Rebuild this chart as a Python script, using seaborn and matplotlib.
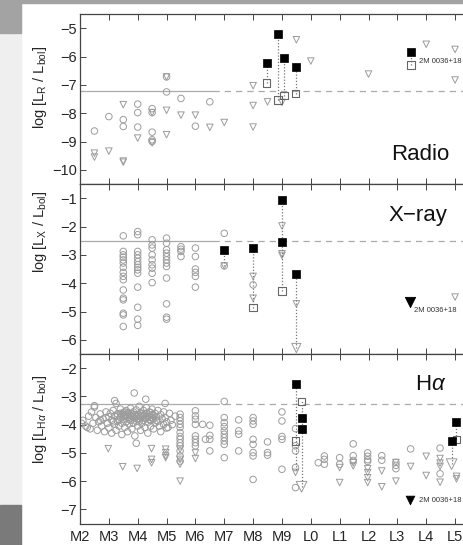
import numpy as np
import pandas as pd
import matplotlib
matplotlib.use("Agg")
import matplotlib.pyplot as plt
import seaborn as sns
from matplotlib.patches import Rectangle

sns.set_style("ticks")
plt.rcParams['font.family'] = ['Liberation Sans', 'DejaVu Sans']
plt.rcParams['mathtext.fontset'] = 'custom'
plt.rcParams['mathtext.rm'] = 'Liberation Sans'
plt.rcParams['mathtext.it'] = 'Liberation Sans:italic'

# ---------------- data ----------------
spt_labels = ["M2", "M3", "M4", "M5", "M6", "M7", "M8", "M9",
              "L0", "L1", "L2", "L3", "L4", "L5"]

# Radio
rad_circ_x = [0.5, 1.0, 1.5, 1.5, 2.0, 2.0, 2.0, 2.5, 2.5, 2.5, 2.5, 2.5, 3.0, 3.0, 3.5, 4.0, 4.5]
rad_circ_y = [-8.63, -8.12, -8.23, -8.47, -7.68, -7.98, -8.49, -7.84, -7.98, -8.67, -8.94, -9.0,
              -6.72, -7.25, -7.48, -8.46, -7.60]
rad_tri_x = [0.5, 0.5, 1.0, 1.5, 1.5, 1.5, 2.0, 2.5, 2.5, 3.0, 3.0, 3.0, 3.5, 4.0, 4.5, 5.0,
             6.0, 6.0, 6.0, 6.5, 7.0, 7.5, 8.0, 10.0, 12.0, 13.0, 13.0]
rad_tri_y = [-9.41, -9.55, -9.34, -7.70, -9.69, -9.73, -8.88, -7.98, -9.05, -6.72, -7.90, -8.76,
             -8.07, -8.07, -8.50, -8.33, -7.03, -7.73, -8.49, -7.60, -7.62, -5.41, -6.16, -6.62,
             -5.57, -5.75, -6.83]
rad_det_x = [6.47, 6.87, 7.08, 7.47, 11.47]
rad_det_y = [-6.22, -5.22, -6.07, -6.36, -5.83]
rad_open_y = [-6.93, -7.54, -7.38, -7.31, -6.30]

# X-ray
xr_circ_x = ([1.5] * 16 + [2.0] * 14 + [2.5] * 9 + [3.0] * 12 + [3.5] * 4 + [4.0] * 6
             + [5.0, 5.0, 6.0])
xr_circ_y = [-2.33, -2.88, -3.00, -3.08, -3.18, -3.29, -3.44, -3.62, -3.76, -3.88, -4.24, -4.53,
             -4.59, -5.06, -5.12, -5.53,
             -2.18, -2.29, -2.88, -3.00, -3.12, -3.24, -3.35, -3.44, -3.53, -3.65, -4.14, -4.85,
             -5.27, -5.49,
             -2.47, -2.65, -2.76, -3.00, -3.18, -3.35, -3.47, -3.65, -3.98,
             -2.41, -2.59, -2.82, -2.94, -3.06, -3.18, -3.29, -3.41, -3.82, -4.73, -5.20, -5.27,
             -2.71, -2.80, -2.88, -3.06,
             -2.76, -3.06, -3.50, -3.62, -3.76, -4.14,
             -2.24, -3.39, -4.06]
xr_tri_x = [5.0, 6.0, 6.0, 7.0, 7.0, 7.0, 7.5, 13.0]
xr_tri_y = [-3.39, -3.76, -4.53, -1.98, -2.96, -3.02, -4.73, -4.49]
xr_bigtri_x = [7.5]
xr_bigtri_y = [-6.29]
xr_det_x = [5.0, 6.0, 7.0, 7.0, 7.5]
xr_det_y = [-2.82, -2.76, -1.08, -2.56, -3.67]
xr_open_x = [6.0, 7.0]
xr_open_y = [-4.86, -4.27]
xr_link_x = [5.0, 6.0, 7.0, 7.5]
xr_link_top = [-2.82, -2.76, -1.08, -3.67]
xr_link_bot = [-3.39, -4.86, -4.27, -6.29]

# H-alpha: dense cloud of early/mid M dwarfs
ha_cloud_x = [0.05, 0.1, 0.2, 0.25, 0.3, 0.35, 0.4, 0.45, 0.5, 0.5, 0.55, 0.6, 0.65, 0.7, 0.7,
              0.75, 0.8, 0.85, 0.9, 0.9, 0.95, 1.0, 1.0, 1.05, 1.1, 1.1, 1.15, 1.15, 1.2, 1.2,
              1.2, 1.25, 1.25, 1.3, 1.3, 1.3, 1.35, 1.35, 1.4, 1.4, 1.4, 1.45, 1.45, 1.45, 1.5,
              1.5, 1.5, 1.55, 1.55, 1.55, 1.6, 1.6, 1.6, 1.65, 1.65, 1.65, 1.7, 1.7, 1.7, 1.75,
              1.75, 1.75, 1.8, 1.8, 1.8, 1.85, 1.85, 1.85, 1.88, 1.9, 1.9, 1.9, 1.95, 1.95, 1.95,
              1.95, 2.0, 2.0, 2.0, 2.05, 2.05, 2.05, 2.1, 2.1, 2.1, 2.15, 2.15, 2.15, 2.2, 2.2,
              2.2, 2.25, 2.25, 2.25, 2.28, 2.3, 2.3, 2.3, 2.35, 2.35, 2.35, 2.4, 2.4, 2.4, 2.45,
              2.45, 2.45, 2.5, 2.5, 2.5, 2.55, 2.55, 2.55, 2.6, 2.6, 2.65, 2.65, 2.7, 2.7, 2.75,
              2.8, 2.8, 2.85, 2.9, 2.9, 2.95, 2.95, 3.0, 3.0, 3.05, 3.1, 3.15, 3.2, 3.3]
ha_cloud_y = [-3.95, -3.85, -4.05, -4.10, -3.70, -4.15, -3.55, -3.95, -3.38, -3.33, -3.75, -4.20,
              -3.90, -3.62, -3.85, -4.05, -3.80, -4.25, -3.55, -3.75, -3.95, -3.72, -4.12, -3.60,
              -3.85, -4.30, -3.50, -3.90, -3.98, -3.70, -3.15, -3.25, -4.20, -3.62, -3.88, -3.70,
              -4.05, -3.82, -3.45, -3.75, -3.60, -3.95, -4.35, -3.65, -3.58, -3.82, -3.70, -3.68,
              -4.10, -3.55, -3.50, -3.90, -3.65, -3.75, -4.25, -3.58, -3.60, -3.98, -3.80, -3.42,
              -3.85, -3.68, -3.70, -4.15, -3.60, -3.55, -3.95, -3.72, -2.88, -3.78, -4.40, -3.65,
              -3.48, -3.88, -3.72, -4.66, -3.65, -4.05, -3.78, -3.35, -3.80, -3.90, -3.58, -4.20,
              -3.70, -3.72, -3.95, -3.62, -3.50, -3.85, -3.68, -3.62, -4.10, -3.78, -3.10, -3.40,
              -3.78, -3.60, -3.92, -4.30, -3.75, -3.55, -3.70, -3.82, -3.85, -4.05, -3.58, -3.45,
              -3.65, -3.75, -3.80, -4.15, -3.68, -3.60, -3.95, -3.72, -3.85, -3.50, -3.88, -4.05,
              -3.65, -4.25, -3.80, -3.55, -4.00, -3.25, -3.75, -3.90, -4.12, -4.10, -3.60, -3.85,
              -4.00, -3.70]
# H-alpha: other gray detections
ha_circ_x = ([3.47] * 13 + [4.0] * 8 + [4.25, 4.35] + [4.5] * 4 + [5.0] * 10 + [5.5] * 4
             + [6.0] * 8 + [6.5] * 3 + [7.0] * 5 + [7.47] * 5 + [8.26] + [8.47] * 3 + [9.0] * 2
             + [9.47] * 3 + [9.97] * 4 + [10.46] * 2 + [10.95] * 3 + [11.46] + [12.48] * 2)
ha_circ_y = [-3.63, -3.75, -3.87, -3.99, -4.10, -4.28, -4.42, -4.52, -4.64, -4.75, -4.93, -5.11,
             -5.29,
             -3.51, -3.69, -3.81, -3.99, -4.40, -4.52, -4.64, -4.75,
             -3.99, -4.52,
             -4.02, -4.38, -4.52, -4.93,
             -3.18, -3.75, -3.93, -4.07, -4.22, -4.34, -4.46, -4.58, -4.70, -5.17,
             -3.83, -4.22, -4.34, -4.93,
             -3.75, -3.87, -3.99, -4.52, -4.70, -4.99, -5.11, -5.94,
             -4.61, -4.99, -5.08,
             -3.55, -3.87, -4.42, -4.52, -5.58,
             -4.14, -4.75, -4.93, -5.52, -6.23,
             -5.35,
             -5.11, -5.23, -5.40,
             -5.17, -5.40,
             -4.68, -5.10, -5.27,
             -5.00, -5.12, -5.24, -5.30,
             -5.10, -5.26,
             -5.34, -5.44, -5.56,
             -4.86,
             -4.83, -5.74]
ha_tri_x = [0.98, 1.48, 1.98, 2.48, 2.48, 2.48, 2.97, 2.97, 2.97, 2.97, 3.47, 3.47, 3.47, 3.47,
            4.0, 4.0, 7.47, 9.0, 9.0, 9.47, 9.47, 9.97, 9.97, 9.97, 9.97, 10.46, 10.46, 10.95,
            10.95, 11.46, 12.0, 12.0, 12.48, 12.48, 12.48, 12.48, 13.05, 13.05]
ha_tri_y = [-4.85, -5.49, -5.55, -4.85, -5.23, -5.35, -4.87, -4.99, -5.11, -5.17, -4.87, -5.23,
            -5.40, -6.00, -5.00, -5.20, -5.69, -5.52, -6.05, -5.35, -5.46, -5.56, -5.70, -5.88,
            -6.05, -5.64, -6.20, -5.34, -6.00, -5.48, -5.12, -5.80, -5.20, -5.36, -5.48, -6.04,
            -5.83, -5.92]
ha_bigtri_x = [7.68, 12.88]
ha_bigtri_y = [-6.20, -5.40]
ha_det_x = [7.47, 7.68, 7.68, 12.88, 13.05]
ha_det_y = [-2.57, -3.77, -4.16, -4.58, -3.89]
ha_open_x = [7.47, 7.68, 13.05]
ha_open_y = [-4.58, -3.18, -4.52]
ha_link_x = [7.47, 7.68, 12.88, 13.05]
ha_link_top = [-2.57, -3.18, -4.58, -3.89]
ha_link_bot = [-5.60, -6.20, -5.40, -4.52]

sat_levels = [-7.2, -2.5, -3.27]   # saturation lines (radio, X-ray, H-alpha)
sat_break = 4.6

bd_name = "2M 0036+18"
bd_rad_x, bd_rad_det, bd_rad_open = 11.47, -5.83, -6.30
bd_xr_x, bd_xr_y = 11.44, -4.68
bd_ha_x, bd_ha_y = 11.44, -6.68

# ---------------- figure ----------------
W, H = 463, 545
fig = plt.figure(figsize=(W / 100, H / 100), dpi=100)
fig.patch.set_facecolor("white")

# slide background pieces around the figure
fig.add_artist(Rectangle((0, 0), 21 / W, 1, transform=fig.transFigure, color="#efefef", zorder=-5))
fig.add_artist(Rectangle((0, 1 - 33 / H), 21 / W, 33 / H, transform=fig.transFigure,
                         color="#a3a3a3", zorder=-4))
fig.add_artist(Rectangle((0, 0), 21 / W, 40 / H, transform=fig.transFigure,
                         color="#7a7a7a", zorder=-4))
fig.add_artist(Rectangle((0, 1 - 3 / H), 1, 3 / H, transform=fig.transFigure,
                         color="#a3a3a3", zorder=-4))

left = 80 / W
width = 13.6 * 28.85 / W
panels = [(14, 184), (184, 354), (354, 523.5)]
axes = []
for (t, b) in panels:
    ax = fig.add_axes([left, 1 - b / H, width, (b - t) / H])
    axes.append(ax)

gray = "#9c9c9c"
small = 22
lw = 0.7


def circles(ax, x, y):
    sns.scatterplot(x=x, y=y, ax=ax, marker="o", s=small, color=gray, facecolor="none",
                    edgecolor=gray, linewidth=lw, zorder=2, legend=False)


def tris(ax, x, y, s=small):
    sns.scatterplot(x=x, y=y, ax=ax, marker="v", s=s, color=gray, facecolor="none",
                    edgecolor=gray, linewidth=lw, zorder=2, legend=False)


def dets(ax, x, y):
    sns.scatterplot(x=x, y=y, ax=ax, marker="s", s=34, color="black", edgecolor="black",
                    linewidth=0.5, zorder=5, legend=False)


def opens(ax, x, y):
    sns.scatterplot(x=x, y=y, ax=ax, marker="s", s=30, color="#666666", facecolor="none",
                    edgecolor="#666666", linewidth=0.8, zorder=4, legend=False)


def links(ax, x, top, bot):
    ax.vlines(x, bot, top, colors="#777777", linestyles=(0, (1, 1.5)), linewidth=0.9, zorder=3)


def satline(ax, level):
    ax.plot([0, sat_break], [level, level], color="#aaaaaa", lw=0.9, zorder=1)
    ax.plot([sat_break, 14], [level, level], color="#aaaaaa", lw=0.9, ls=(0, (5, 4)), zorder=1)


# Radio
ax = axes[0]
satline(ax, sat_levels[0])
circles(ax, rad_circ_x, rad_circ_y)
tris(ax, rad_tri_x, rad_tri_y)
links(ax, rad_det_x, rad_det_y, rad_open_y)
opens(ax, rad_det_x, rad_open_y)
dets(ax, rad_det_x, rad_det_y)
ax.text(bd_rad_x + 0.28, (bd_rad_det + bd_rad_open) / 2 - 0.12, bd_name, fontsize=5.5,
        ha="left", va="center", color="#333333")
ax.text(10.8, -9.46, "Radio", fontsize=16, ha="left", va="center", color="#111111")
ax.set_ylim(-10.5, -4.5)
ax.set_yticks([-10, -9, -8, -7, -6, -5])

# X-ray
ax = axes[1]
satline(ax, sat_levels[1])
circles(ax, xr_circ_x, xr_circ_y)
links(ax, xr_link_x, xr_link_top, xr_link_bot)
tris(ax, xr_tri_x, xr_tri_y)
tris(ax, xr_bigtri_x, xr_bigtri_y, s=45)
opens(ax, xr_open_x, xr_open_y)
dets(ax, xr_det_x, xr_det_y)
sns.scatterplot(x=[bd_xr_x], y=[bd_xr_y], ax=ax, marker="v", s=55, color="black",
                edgecolor="black", zorder=5, legend=False)
ax.text(bd_xr_x + 0.15, bd_xr_y - 0.3, bd_name, fontsize=5.5, ha="left", va="center",
        color="#333333")
ax.text(10.68, -1.62, "X\u2212ray", fontsize=16, ha="left", va="center", color="#111111")
ax.set_ylim(-6.5, -0.5)
ax.set_yticks([-6, -5, -4, -3, -2, -1])

# H-alpha
ax = axes[2]
satline(ax, sat_levels[2])
circles(ax, ha_cloud_x, ha_cloud_y)
circles(ax, ha_circ_x, ha_circ_y)
tris(ax, ha_tri_x, ha_tri_y)
links(ax, ha_link_x, ha_link_top, ha_link_bot)
tris(ax, ha_bigtri_x, ha_bigtri_y, s=60)
opens(ax, ha_open_x, ha_open_y)
dets(ax, ha_det_x, ha_det_y)
sns.scatterplot(x=[bd_ha_x], y=[bd_ha_y], ax=ax, marker="v", s=40, color="black",
                edgecolor="black", zorder=5, legend=False)
ax.text(bd_ha_x + 0.3, bd_ha_y, bd_name, fontsize=5.5, ha="left", va="center",
        color="#333333")
ax.text(11.6, -2.57, r"H$\alpha$", fontsize=16, ha="left", va="center", color="#111111")
ax.set_ylim(-7.5, -1.5)
ax.set_yticks([-7, -6, -5, -4, -3, -2])

for i, ax in enumerate(axes):
    ax.set_xlim(0, 13.6)
    ax.set_xticks(np.arange(len(spt_labels)))
    ax.set_xlabel("")
    ax.set_ylabel("")
    ax.tick_params(direction="in", top=True, right=True, length=4, width=0.7,
                   color="#444444", labelsize=10.5, pad=2)
    for sp in ax.spines.values():
        sp.set_color("#444444")
        sp.set_linewidth(0.9)
    if i < 2:
        ax.tick_params(labelbottom=False)
    else:
        ax.set_xticklabels(spt_labels)
        ax.tick_params(axis="x", pad=5)

ylabels = [(r"log [L$_\mathrm{R}$ / L$_\mathrm{bol}$]", 87),
           (r"log [L$_\mathrm{X}$ / L$_\mathrm{bol}$]", 232),
           (r"log [L$_{\mathrm{H}\alpha}$ / L$_\mathrm{bol}$]", 419)]
for txt, yc in ylabels:
    fig.text(40 / W, 1 - yc / H, txt, rotation=90, ha="center", va="center", fontsize=10.5)

fig.savefig("out.png", dpi=100, facecolor=fig.get_facecolor())
